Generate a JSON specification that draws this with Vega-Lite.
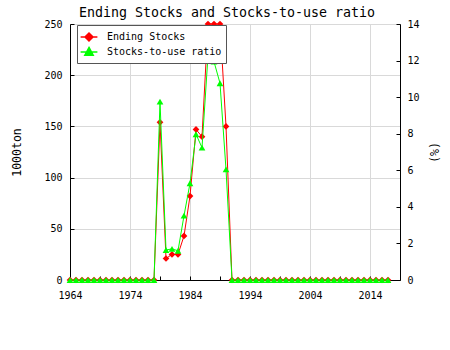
{
  "$schema": "https://vega.github.io/schema/vega-lite/v6.json",
  "width": 330,
  "height": 256,
  "autosize": "none",
  "padding": {"left": 70, "top": 24, "right": 50, "bottom": 70},
  "background": "white",
  "title": {"text": "Ending Stocks and Stocks-to-use ratio", "fontSize": 13.3, "font": "DejaVu Sans Mono", "fontWeight": "normal", "anchor": "middle", "dx": -8, "dy": 19, "offset": 5, "baseline": "bottom", "color": "black"},
  "data": {"values": [
    {"year": 1964, "stocks": 0, "ratio": 0},
    {"year": 1965, "stocks": 0, "ratio": 0},
    {"year": 1966, "stocks": 0, "ratio": 0},
    {"year": 1967, "stocks": 0, "ratio": 0},
    {"year": 1968, "stocks": 0, "ratio": 0},
    {"year": 1969, "stocks": 0, "ratio": 0},
    {"year": 1970, "stocks": 0, "ratio": 0},
    {"year": 1971, "stocks": 0, "ratio": 0},
    {"year": 1972, "stocks": 0, "ratio": 0},
    {"year": 1973, "stocks": 0, "ratio": 0},
    {"year": 1974, "stocks": 0, "ratio": 0},
    {"year": 1975, "stocks": 0, "ratio": 0},
    {"year": 1976, "stocks": 0, "ratio": 0},
    {"year": 1977, "stocks": 0, "ratio": 0},
    {"year": 1978, "stocks": 0, "ratio": 0},
    {"year": 1979, "stocks": 154, "ratio": 9.75},
    {"year": 1980, "stocks": 21, "ratio": 1.64},
    {"year": 1981, "stocks": 25, "ratio": 1.7},
    {"year": 1982, "stocks": 25, "ratio": 1.6},
    {"year": 1983, "stocks": 43, "ratio": 3.52},
    {"year": 1984, "stocks": 82, "ratio": 5.29},
    {"year": 1985, "stocks": 147, "ratio": 7.97},
    {"year": 1986, "stocks": 140, "ratio": 7.24},
    {"year": 1987, "stocks": 250, "ratio": 12.27},
    {"year": 1988, "stocks": 250, "ratio": 11.94},
    {"year": 1989, "stocks": 250, "ratio": 10.76},
    {"year": 1990, "stocks": 150, "ratio": 6.05},
    {"year": 1991, "stocks": 0, "ratio": 0},
    {"year": 1992, "stocks": 0, "ratio": 0},
    {"year": 1993, "stocks": 0, "ratio": 0},
    {"year": 1994, "stocks": 0, "ratio": 0},
    {"year": 1995, "stocks": 0, "ratio": 0},
    {"year": 1996, "stocks": 0, "ratio": 0},
    {"year": 1997, "stocks": 0, "ratio": 0},
    {"year": 1998, "stocks": 0, "ratio": 0},
    {"year": 1999, "stocks": 0, "ratio": 0},
    {"year": 2000, "stocks": 0, "ratio": 0},
    {"year": 2001, "stocks": 0, "ratio": 0},
    {"year": 2002, "stocks": 0, "ratio": 0},
    {"year": 2003, "stocks": 0, "ratio": 0},
    {"year": 2004, "stocks": 0, "ratio": 0},
    {"year": 2005, "stocks": 0, "ratio": 0},
    {"year": 2006, "stocks": 0, "ratio": 0},
    {"year": 2007, "stocks": 0, "ratio": 0},
    {"year": 2008, "stocks": 0, "ratio": 0},
    {"year": 2009, "stocks": 0, "ratio": 0},
    {"year": 2010, "stocks": 0, "ratio": 0},
    {"year": 2011, "stocks": 0, "ratio": 0},
    {"year": 2012, "stocks": 0, "ratio": 0},
    {"year": 2013, "stocks": 0, "ratio": 0},
    {"year": 2014, "stocks": 0, "ratio": 0},
    {"year": 2015, "stocks": 0, "ratio": 0},
    {"year": 2016, "stocks": 0, "ratio": 0},
    {"year": 2017, "stocks": 0, "ratio": 0}
  ]},
  "encoding": {
    "x": {
      "field": "year", "type": "quantitative",
      "scale": {"domain": [1964, 2019], "nice": false, "zero": false},
      "axis": {
        "title": null,
        "values": [1964, 1969, 1974, 1979, 1984, 1989, 1994, 1999, 2004, 2009, 2014],
        "labelExpr": "(datum.value - 1964) % 10 == 0 ? datum.value : ''",
        "tickSize": -4, "labelPadding": 14, "labelFontSize": 10, "labelColor": "black",
        "labelFlush": false, "labelOverlap": false,
        "domainColor": "black", "tickColor": "black",
        "grid": true, "gridColor": "#d9d9d9",
        "gridOpacity": {"condition": {"test": "(datum.value - 1964) % 10 == 0", "value": 1}, "value": 0}
      }
    }
  },
  "layer": [
    {
      "mark": {"type": "line", "strokeWidth": 1, "point": {"shape": "diamond", "filled": true, "size": 45}},
      "encoding": {
        "y": {
          "field": "stocks", "type": "quantitative",
          "scale": {"domain": [0, 250], "nice": false},
          "axis": {
            "title": "1000ton", "titleFontSize": 11.5, "titleFontWeight": "normal", "titleColor": "black",
            "titleX": -53, "titleY": 128, "titleAngle": -90, "titleBaseline": "middle", "titleAlign": "center",
            "values": [0, 50, 100, 150, 200, 250],
            "tickSize": -4, "labelPadding": 12, "labelFontSize": 10, "labelColor": "black",
            "labelFlush": false, "labelOverlap": false,
            "domainColor": "black", "tickColor": "black",
            "grid": true, "gridColor": "#d9d9d9"
          }
        },
        "color": {
          "datum": "Ending Stocks",
          "scale": {"domain": ["Ending Stocks", "Stocks-to-use ratio"], "range": ["#ff0000", "#00ff00"]},
          "legend": {
            "orient": "none", "legendX": 7, "legendY": 1, "title": null,
            "labelFontSize": 10, "labelColor": "black", "labelFont": "DejaVu Sans Mono",
            "symbolSize": 196, "symbolStrokeWidth": 1.5,
            "symbolType": {"expr": "datum.value == 'Ending Stocks' ? 'M-1.2,0L1.2,0M0,-0.57L0.57,0L0,0.57L-0.57,0Z' : 'M-1.2,0L1.2,0M0,-0.65L0.6,0.45L-0.6,0.45Z'"},
            "symbolFillColor": {"expr": "datum.value == 'Ending Stocks' ? '#ff0000' : '#00ff00'"},
            "fillColor": "white", "strokeColor": "#555555", "padding": 4, "rowPadding": 0, "labelOffset": 10
          }
        }
      }
    },
    {
      "mark": {"type": "line", "strokeWidth": 1, "point": {"shape": "triangle-up", "filled": true, "size": 45}},
      "encoding": {
        "y": {
          "field": "ratio", "type": "quantitative",
          "scale": {"domain": [0, 14], "nice": false},
          "axis": {
            "orient": "right",
            "title": "(%)", "titleFontSize": 11.5, "titleFontWeight": "normal", "titleColor": "black",
            "titleX": 32, "titleY": 128, "titleAngle": 90, "titleBaseline": "middle", "titleAlign": "center",
            "values": [0, 2, 4, 6, 8, 10, 12, 14],
            "tickSize": -4, "labelPadding": 11, "labelFontSize": 10, "labelColor": "black",
            "labelFlush": false, "labelOverlap": false,
            "domainColor": "black", "tickColor": "black",
            "grid": false
          }
        },
        "color": {"datum": "Stocks-to-use ratio"}
      }
    }
  ],
  "resolve": {"scale": {"y": "independent"}},
  "config": {"view": {"stroke": null}, "font": "DejaVu Sans Mono"}
}
